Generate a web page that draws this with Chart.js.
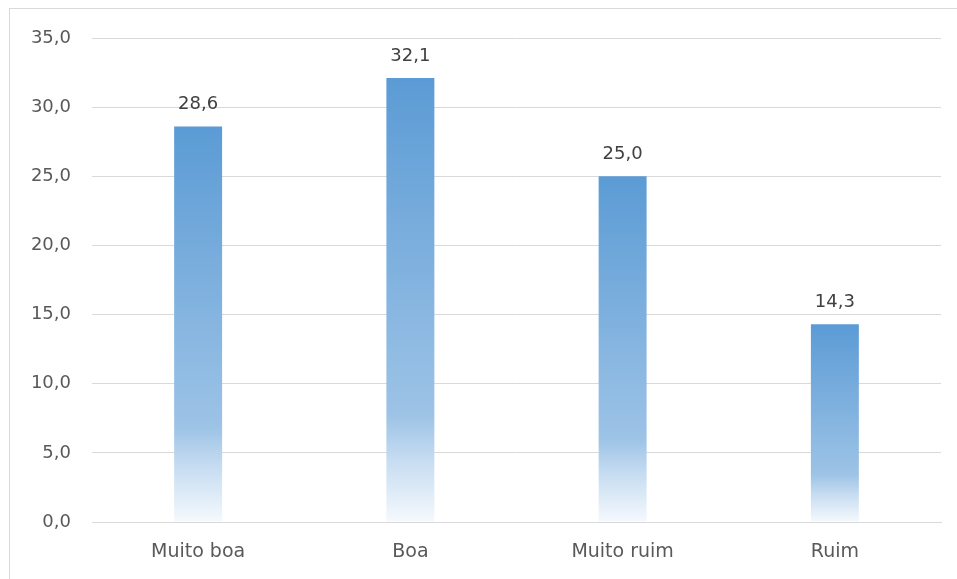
<!DOCTYPE html>
<html lang="pt">
<head>
  <meta charset="UTF-8" />
  <title>Avaliação</title>
  <script src="https://cdn.jsdelivr.net/npm/chart.js"></script>
  <style>
    body {
      margin: 0;
      background: #fff;
    }
    .frame {
      position: absolute;
      left: 9px;
      top: 8px;
      width: 960px;
      height: 580px;
      border-top: 1px solid #d9d9d9;
      border-left: 1px solid #d9d9d9;
    }
    .wrap {
      position: absolute;
      left: 0;
      top: 0;
      width: 957px;
      height: 579px;
    }
  </style>
</head>
<body>

<div class="frame"></div>
<div class="wrap">
  <canvas id="chart" width="957" height="579"></canvas>
</div>

<script>
  const categories = ['Muito boa', 'Boa', 'Muito ruim', 'Ruim'];
  const values = [28.6, 32.1, 25.0, 14.3];

  const fmt = v => v.toFixed(1).replace('.', ',');

  // gradient from the top of each bar down to the baseline
  function barFill(ctx) {
    const chart = ctx.chart;
    if (!chart.chartArea || ctx.raw === undefined) return '#5b9bd5';
    const y = chart.scales.y;
    const top = y.getPixelForValue(ctx.raw);
    const bottom = y.getPixelForValue(0);
    const g = chart.ctx.createLinearGradient(0, top, 0, bottom);
    g.addColorStop(0, '#5b9bd5');
    g.addColorStop(0.76, '#9dc3e6');
    g.addColorStop(0.86, '#c6dcf1');
    g.addColorStop(1, '#f5f9fd');
    return g;
  }

  // value labels above the bars
  const valueLabels = {
    id: 'valueLabels',
    afterDatasetsDraw(chart) {
      const c = chart.ctx;
      const meta = chart.getDatasetMeta(0);
      c.save();
      c.font = '18px "DejaVu Sans"';
      c.fillStyle = '#404040';
      c.textAlign = 'center';
      c.textBaseline = 'middle';
      meta.data.forEach((bar, i) => {
        c.fillText(fmt(values[i]), bar.x, bar.y - 22);
      });
      c.restore();
    }
  };

  new Chart(document.getElementById('chart'), {
    type: 'bar',
    data: {
      labels: categories,
      datasets: [{
        data: values,
        backgroundColor: barFill,
        borderWidth: 0,
        categoryPercentage: 1,
        barPercentage: 0.226
      }]
    },
    options: {
      responsive: false,
      animation: false,
      layout: { padding: { top: 38, right: 16, left: 0, bottom: 0 } },
      plugins: {
        legend: { display: false },
        tooltip: { enabled: false }
      },
      scales: {
        x: {
          grid: { display: false, drawTicks: false },
          border: { color: '#d9d9d9', width: 1 },
          ticks: {
            color: '#595959',
            font: { family: 'DejaVu Sans', size: 19 },
            padding: 19
          },
          afterFit: s => { s.height = 57; }
        },
        y: {
          min: 0,
          max: 35,
          ticks: {
            stepSize: 5,
            color: '#595959',
            font: { family: 'DejaVu Sans', size: 18 },
            padding: 21,
            callback: v => fmt(v)
          },
          grid: { color: '#d9d9d9', drawTicks: false },
          border: { display: false },
          afterFit: s => { s.width = 92; }
        }
      }
    },
    plugins: [valueLabels]
  });
</script>
</body>
</html>
